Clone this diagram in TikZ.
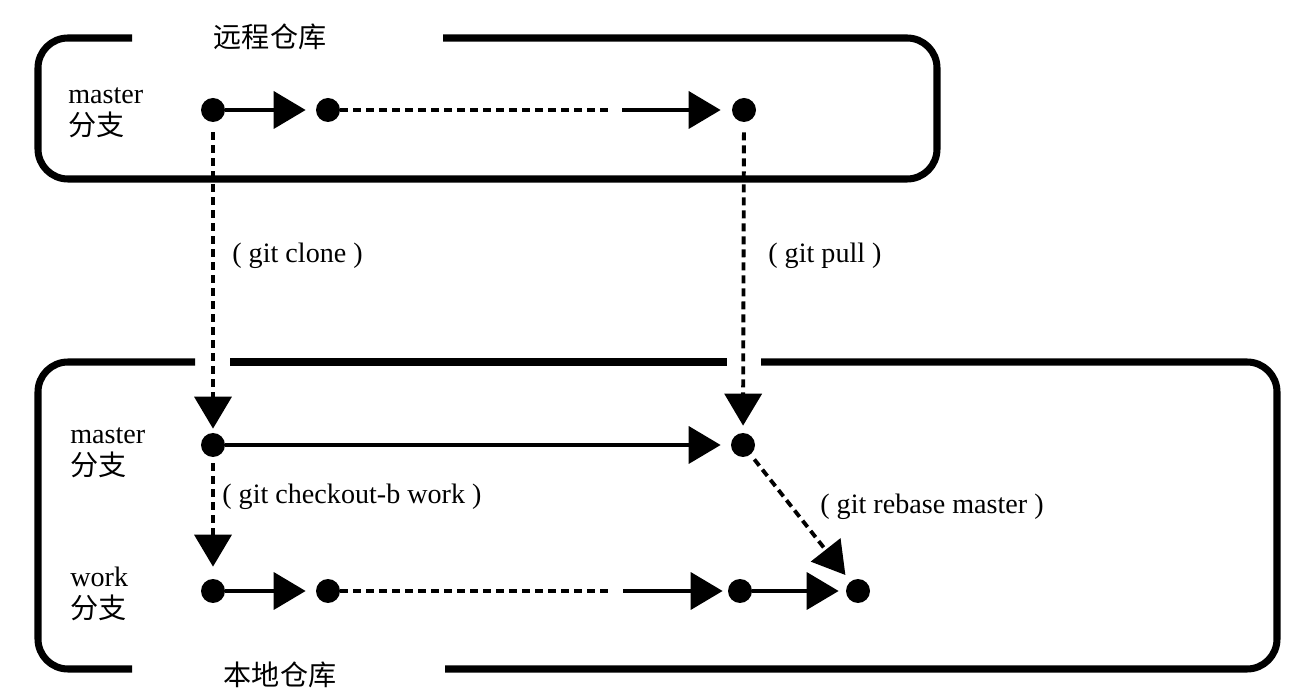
\documentclass[tikz,border=0pt]{standalone}
\usepackage{fontspec}
\setmainfont{Liberation Serif}
\newfontfamily\cjk{Noto Sans CJK SC}
\usetikzlibrary{arrows.meta}
\tikzstyle{dot}=[circle, fill=black, minimum size=0.48cm, inner sep=0pt]
\tikzstyle{frame}=[line width=4pt, rounded corners=0.6cm]
\tikzstyle{tip}=[-{Triangle[length=0.64cm,width=0.74cm]}]
\tikzstyle{solidline}=[line width=2.2pt]
\tikzstyle{dashline}=[line width=2.2pt, dash pattern=on 0.16cm off 0.1cm]
\tikzstyle{annot}=[anchor=west, inner sep=0pt, font=\fontsize{16}{18}\selectfont]
\tikzstyle{boxlabel}=[inner sep=0pt, font=\fontsize{16}{18}\selectfont\cjk]
\newcommand{\branchname}[3]
{
  \node[annot, align=left](#1) at (#2){#3\\{\cjk 分支}};
}

\begin{document}
\begin{tikzpicture}[x=0.02cm, y=-0.02cm]
	\useasboundingbox (0,0) rectangle (1306,695);

	% remote repository
	\draw[frame] (132,38) -- (38,38) -- (38,179) -- (937,179) -- (937,38) -- (443,38);
	\node[boxlabel](remote) at (270,37){远程仓库};
	% local repository
	\draw[frame] (132,669) -- (38,669) -- (38,362) -- (195,362);
	\draw[frame] (230,362) -- (727,362);
	\draw[frame] (761,362) -- (1277,362) -- (1277,669) -- (445,669);
	\node[boxlabel](local) at (280,675){本地仓库};

	\branchname{rmaster}{68,113}{master}
	\branchname{lmaster}{70,453}{master}
	\branchname{lwork}{70,594}{work}

	\node[dot](r1) at (213,110){};
	\node[dot](r2) at (328,110){};
	\node[dot](r3) at (744,110){};
	\node[dot](m1) at (213,445){};
	\node[dot](m2) at (743,445){};
	\node[dot](w1) at (213,591){};
	\node[dot](w2) at (328,591){};
	\node[dot](w3) at (740,591){};
	\node[dot](w4) at (858,591){};
	\coordinate (rs) at (608,110);
	\coordinate (re) at (622,110);
	\coordinate (ws) at (610,591);
	\coordinate (we) at (623,591);

	% remote master
	\draw[solidline, tip, shorten >=0.2cm] (r1) -- (r2);
	\draw[dashline] (r2) -- (rs);
	\draw[solidline, tip, shorten >=0.22cm] (re) -- (r3);
	% local master
	\draw[solidline, tip, shorten >=0.2cm] (m1) -- (m2);
	% work
	\draw[solidline, tip, shorten >=0.2cm] (w1) -- (w2);
	\draw[dashline] (w2) -- (ws);
	\draw[solidline, tip, shorten >=0.1cm] (we) -- (w3);
	\draw[solidline, tip, shorten >=0.14cm] (w3) -- (w4);

	% commands
	\draw[dashline, tip, shorten <=0.2cm, shorten >=0.08cm] (r1) -- (m1);
	\draw[dashline, tip, shorten <=0.2cm, shorten >=0.14cm] (r3) -- (m2);
	\draw[dashline, tip, shorten <=0.12cm, shorten >=0.24cm] (m1) -- (w1);
	\draw[dashline, tip, shorten <=0.12cm, shorten >=0.16cm] (m2) -- (w4);
	\node[annot](clone) at (232,256){( git clone )};
	\node[annot](pull) at (768,256){( git pull )};
	\node[annot](checkout) at (222,497){( git checkout-b work )};
	\node[annot](rebase) at (820,507){( git rebase master )};

\end{tikzpicture}
\end{document}
